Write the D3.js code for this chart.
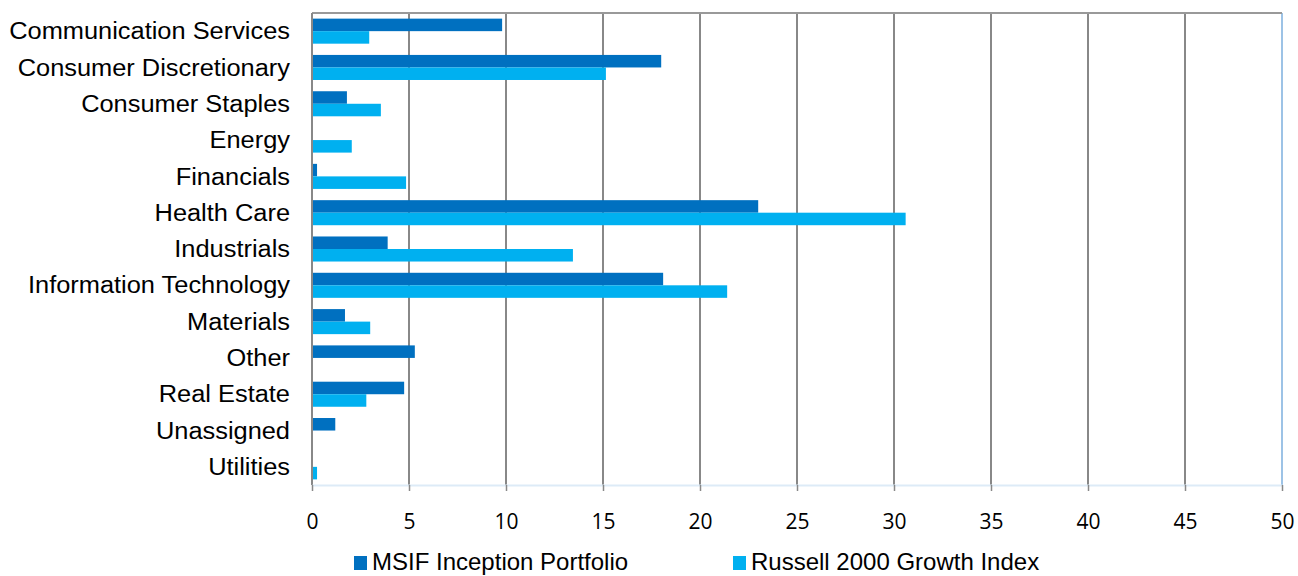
<!DOCTYPE html>
<html>
<head>
<meta charset="utf-8">
<script src="https://cdn.jsdelivr.net/npm/d3@7"></script>
<style>
  body { margin: 0; background: #fff; }
  svg { display: block; }
</style>
</head>
<body>
<div id="chart"></div>
<script>
// sector weights (%)
const sectors = ["Communication Services", "Consumer Discretionary", "Consumer Staples", "Energy",
  "Financials", "Health Care", "Industrials", "Information Technology", "Materials", "Other",
  "Real Estate", "Unassigned", "Utilities"];
const portfolio = [9.8, 18.0, 1.8, 0, 0.26, 23.0, 3.9, 18.1, 1.7, 5.3, 4.75, 1.2, 0];
const benchmark = [2.95, 15.15, 3.55, 2.05, 4.85, 30.6, 13.45, 21.4, 3.0, 0, 2.8, 0, 0.26];
const seriesNames = ["MSIF Inception Portfolio", "Russell 2000 Growth Index"];
const xTicks = [0, 5, 10, 15, 20, 25, 30, 35, 40, 45, 50];

const width = 1298, height = 576;
const margin = {top: 13, right: 16, bottom: 91, left: 312};
const w = width - margin.left - margin.right;
const h = height - margin.top - margin.bottom;

const colors = ["#0070C0", "#00B0F0"];

const svg = d3.select("#chart").append("svg")
    .attr("width", width)
    .attr("height", height);

const g = svg.append("g")
    .attr("transform", "translate(" + margin.left + "," + margin.top + ")");

const x = d3.scaleLinear().domain([0, 50]).range([0, w]);
const y = d3.scaleBand().domain(sectors).range([0, h]).paddingInner(0.31).paddingOuter(0.155);
const sub = d3.scaleBand().domain([0, 1]).range([0, y.bandwidth()]);

// gridlines
g.selectAll(".grid")
    .data(xTicks)
    .join("line")
    .attr("x1", d => x(d)).attr("x2", d => x(d))
    .attr("y1", 0).attr("y2", h)
    .attr("stroke", d => d === 50 ? "#9DC3E6" : "#888")
    .attr("stroke-width", 2);

// top border
g.append("line")
    .attr("x1", 0).attr("x2", w)
    .attr("y1", 0).attr("y2", 0)
    .attr("stroke", "#999").attr("stroke-width", 2);

const rows = sectors.map((s, i) => ({sector: s, vals: [portfolio[i], benchmark[i]]}));

const grp = g.selectAll(".row")
    .data(rows)
    .join("g")
    .attr("transform", d => "translate(0," + y(d.sector) + ")");

grp.selectAll("rect")
    .data(d => d.vals.map((v, k) => ({v, k})))
    .join("rect")
    .attr("x", x(0))
    .attr("y", d => sub(d.k))
    .attr("width", d => x(d.v) - x(0))
    .attr("height", sub.bandwidth())
    .attr("fill", d => colors[d.k]);

// y axis line
g.append("line")
    .attr("x1", 0).attr("x2", 0)
    .attr("y1", 0).attr("y2", h)
    .attr("stroke", "#888").attr("stroke-width", 2);

// category labels (slightly wide font in the original)
g.selectAll(".cat")
    .data(sectors)
    .join("text")
    .attr("transform", d => "translate(-22," + (y(d) + y.bandwidth() / 2) + ") scale(1.09,1)")
    .attr("dy", "0.35em")
    .attr("text-anchor", "end")
    .attr("font-family", "Liberation Sans, Arial, sans-serif")
    .attr("font-size", 23.3)
    .attr("fill", "#000")
    .text(d => d);

// x axis
const xAxis = g.append("g")
    .attr("transform", "translate(0," + h + ")")
    .call(d3.axisBottom(x).tickValues(xTicks).tickSize(6).tickPadding(23).tickSizeOuter(0));
xAxis.select(".domain").attr("stroke", "#DDEBF7").attr("stroke-width", 2);
xAxis.selectAll(".tick line").attr("stroke", "#888").attr("stroke-width", 1.5);
xAxis.selectAll("text")
    .attr("font-family", "Open Sans, Liberation Sans, sans-serif")
    .attr("font-size", 21)
    .attr("fill", "#000");

// legend (kept just inside the bottom edge)
const legend = svg.append("g");
const legX = [354, 733];
seriesNames.forEach((name, k) => {
  legend.append("rect")
      .attr("x", legX[k]).attr("y", 556)
      .attr("width", 13).attr("height", 14)
      .attr("fill", colors[k]);
  legend.append("text")
      .attr("x", legX[k] + 18).attr("y", 570)
      .attr("font-family", "Liberation Sans, Arial, sans-serif")
      .attr("font-size", 24)
      .attr("fill", "#000")
      .text(name);
});
</script>
</body>
</html>
